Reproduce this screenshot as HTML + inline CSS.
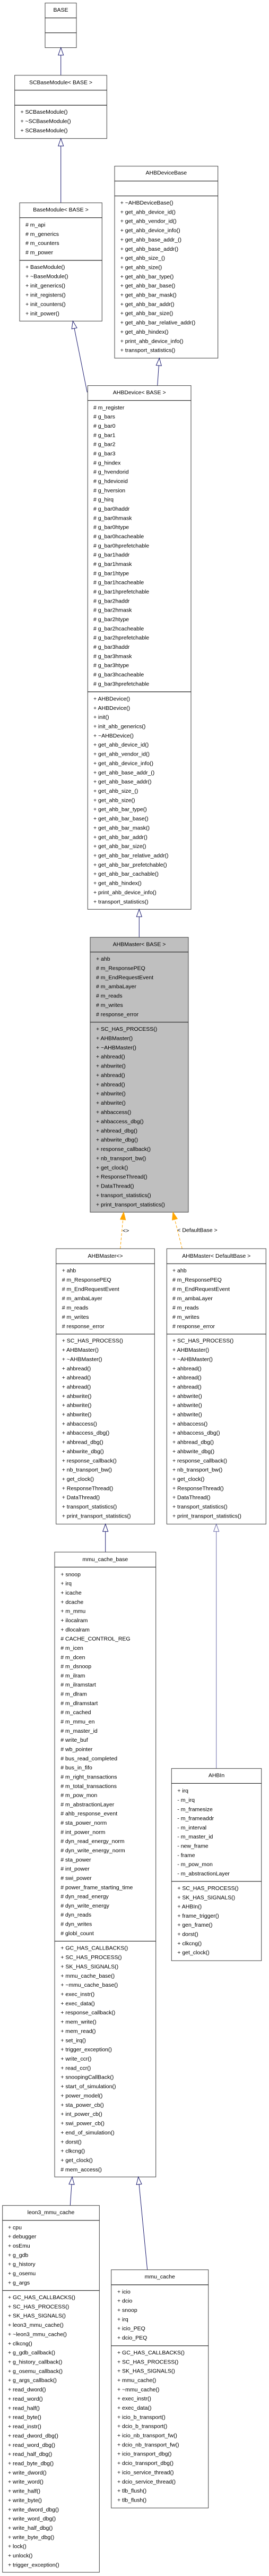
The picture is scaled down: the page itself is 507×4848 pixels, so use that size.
<!DOCTYPE html>
<html><head><meta charset="utf-8"><style>
html,body{margin:0;padding:0;background:#fff;}
svg{display:block;}
text{font-family:"Liberation Sans",Arial,sans-serif;font-size:10.5px;fill:#000;}
.t{text-anchor:middle;}
.b{fill:#fff;stroke:#404040;stroke-width:1;}
.g{fill:#bfbfbf;stroke:#404040;stroke-width:1;}
.d{stroke:#202020;stroke-width:1.2;}
.e{stroke:#191970;stroke-width:1;fill:none;}
.a{stroke:#191970;stroke-width:1;fill:#fff;}
</style></head><body>
<svg width="507" height="4848" viewBox="0 0 507 4848" xmlns="http://www.w3.org/2000/svg">

<!-- BASE -->
<rect class="b" x="85" y="5.7" width="59" height="84"/>
<line class="d" x1="85" y1="33.7" x2="144" y2="33.7"/><line class="d" x1="85" y1="61.7" x2="144" y2="61.7"/>
<text class="t" x="114.5" y="22">BASE</text>

<!-- edge SCBase -> BASE -->
<line class="e" x1="114.7" y1="141.7" x2="114.7" y2="103.7"/>
<polygon class="a" points="114.7,89.7 119.7,103.7 109.7,103.7"/>

<!-- SCBaseModule -->
<rect class="b" x="27.7" y="141.7" width="173.6" height="119"/>
<line class="d" x1="27.7" y1="169.7" x2="201.3" y2="169.7"/><line class="d" x1="27.7" y1="198" x2="201.3" y2="198"/>
<text class="t" x="114.5" y="158.3">SCBaseModule&lt; BASE &gt;</text>
<text x="38.5" y="214"><tspan x="38.5" dy="0">+ SCBaseModule()</tspan><tspan x="38.5" dy="17.5">+ ~SCBaseModule()</tspan><tspan x="38.5" dy="17.5">+ SCBaseModule()</tspan></text>

<!-- edge BaseModule -> SCBase -->
<line class="e" x1="114.7" y1="381.7" x2="114.7" y2="274.7"/>
<polygon class="a" points="114.7,260.7 119.7,274.7 109.7,274.7"/>

<!-- BaseModule -->
<rect class="b" x="37" y="381.7" width="155.3" height="222.6"/>
<line class="d" x1="37" y1="409.7" x2="192.3" y2="409.7"/><line class="d" x1="37" y1="490" x2="192.3" y2="490"/>
<text class="t" x="114.5" y="398">BaseModule&lt; BASE &gt;</text>
<text x="48" y="426.4"><tspan x="48" dy="0"># m_api</tspan><tspan x="48" dy="17.35"># m_generics</tspan><tspan x="48" dy="17.35"># m_counters</tspan><tspan x="48" dy="17.35"># m_power</tspan></text>
<text x="48" y="506"><tspan x="48" dy="0">+ BaseModule()</tspan><tspan x="48" dy="17.5">+ ~BaseModule()</tspan><tspan x="48" dy="17.5">+ init_generics()</tspan><tspan x="48" dy="17.5">+ init_registers()</tspan><tspan x="48" dy="17.5">+ init_counters()</tspan><tspan x="48" dy="17.5">+ init_power()</tspan></text>

<!-- AHBDeviceBase -->
<rect class="b" x="216" y="312.7" width="194.7" height="361.3"/>
<line class="d" x1="216" y1="340.7" x2="410.7" y2="340.7"/><line class="d" x1="216" y1="368.7" x2="410.7" y2="368.7"/>
<text class="t" x="313.3" y="328.7">AHBDeviceBase</text>
<text x="226.7" y="385"><tspan x="226.7" dy="0">+ ~AHBDeviceBase()</tspan><tspan x="226.7" dy="17.35">+ get_ahb_device_id()</tspan><tspan x="226.7" dy="17.35">+ get_ahb_vendor_id()</tspan><tspan x="226.7" dy="17.35">+ get_ahb_device_info()</tspan><tspan x="226.7" dy="17.35">+ get_ahb_base_addr_()</tspan><tspan x="226.7" dy="17.35">+ get_ahb_base_addr()</tspan><tspan x="226.7" dy="17.35">+ get_ahb_size_()</tspan><tspan x="226.7" dy="17.35">+ get_ahb_size()</tspan><tspan x="226.7" dy="17.35">+ get_ahb_bar_type()</tspan><tspan x="226.7" dy="17.35">+ get_ahb_bar_base()</tspan><tspan x="226.7" dy="17.35">+ get_ahb_bar_mask()</tspan><tspan x="226.7" dy="17.35">+ get_ahb_bar_addr()</tspan><tspan x="226.7" dy="17.35">+ get_ahb_bar_size()</tspan><tspan x="226.7" dy="17.35">+ get_ahb_bar_relative_addr()</tspan><tspan x="226.7" dy="17.35">+ get_ahb_hindex()</tspan><tspan x="226.7" dy="17.35">+ print_ahb_device_info()</tspan><tspan x="226.7" dy="17.35">+ transport_statistics()</tspan></text>

<!-- edges to AHBDevice -->
<line class="e" x1="164.3" y1="738.3" x2="140.1" y2="618"/>
<polygon class="a" points="137.3,604.3 145,617 135.2,619"/>
<line class="e" x1="296.7" y1="725.7" x2="299.3" y2="688"/>
<polygon class="a" points="300.3,674 304.3,688.3 294.3,687.6"/>

<!-- AHBDevice -->
<rect class="b" x="165.3" y="725.7" width="194.7" height="985.6"/>
<line class="d" x1="165.3" y1="753.7" x2="360" y2="753.7"/><line class="d" x1="165.3" y1="1302" x2="360" y2="1302"/>
<text class="t" x="262.7" y="742">AHBDevice&lt; BASE &gt;</text>
<text x="176" y="770.4"><tspan x="176" dy="0"># m_register</tspan><tspan x="176" dy="17.33"># g_bars</tspan><tspan x="176" dy="17.33"># g_bar0</tspan><tspan x="176" dy="17.33"># g_bar1</tspan><tspan x="176" dy="17.33"># g_bar2</tspan><tspan x="176" dy="17.33"># g_bar3</tspan><tspan x="176" dy="17.33"># g_hindex</tspan><tspan x="176" dy="17.33"># g_hvendorid</tspan><tspan x="176" dy="17.33"># g_hdeviceid</tspan><tspan x="176" dy="17.33"># g_hversion</tspan><tspan x="176" dy="17.33"># g_hirq</tspan><tspan x="176" dy="17.33"># g_bar0haddr</tspan><tspan x="176" dy="17.33"># g_bar0hmask</tspan><tspan x="176" dy="17.33"># g_bar0htype</tspan><tspan x="176" dy="17.33"># g_bar0hcacheable</tspan><tspan x="176" dy="17.33"># g_bar0hprefetchable</tspan><tspan x="176" dy="17.33"># g_bar1haddr</tspan><tspan x="176" dy="17.33"># g_bar1hmask</tspan><tspan x="176" dy="17.33"># g_bar1htype</tspan><tspan x="176" dy="17.33"># g_bar1hcacheable</tspan><tspan x="176" dy="17.33"># g_bar1hprefetchable</tspan><tspan x="176" dy="17.33"># g_bar2haddr</tspan><tspan x="176" dy="17.33"># g_bar2hmask</tspan><tspan x="176" dy="17.33"># g_bar2htype</tspan><tspan x="176" dy="17.33"># g_bar2hcacheable</tspan><tspan x="176" dy="17.33"># g_bar2hprefetchable</tspan><tspan x="176" dy="17.33"># g_bar3haddr</tspan><tspan x="176" dy="17.33"># g_bar3hmask</tspan><tspan x="176" dy="17.33"># g_bar3htype</tspan><tspan x="176" dy="17.33"># g_bar3hcacheable</tspan><tspan x="176" dy="17.33"># g_bar3hprefetchable</tspan></text>
<text x="176" y="1318.4"><tspan x="176" dy="0">+ AHBDevice()</tspan><tspan x="176" dy="17.36">+ AHBDevice()</tspan><tspan x="176" dy="17.36">+ init()</tspan><tspan x="176" dy="17.36">+ init_ahb_generics()</tspan><tspan x="176" dy="17.36">+ ~AHBDevice()</tspan><tspan x="176" dy="17.36">+ get_ahb_device_id()</tspan><tspan x="176" dy="17.36">+ get_ahb_vendor_id()</tspan><tspan x="176" dy="17.36">+ get_ahb_device_info()</tspan><tspan x="176" dy="17.36">+ get_ahb_base_addr_()</tspan><tspan x="176" dy="17.36">+ get_ahb_base_addr()</tspan><tspan x="176" dy="17.36">+ get_ahb_size_()</tspan><tspan x="176" dy="17.36">+ get_ahb_size()</tspan><tspan x="176" dy="17.36">+ get_ahb_bar_type()</tspan><tspan x="176" dy="17.36">+ get_ahb_bar_base()</tspan><tspan x="176" dy="17.36">+ get_ahb_bar_mask()</tspan><tspan x="176" dy="17.36">+ get_ahb_bar_addr()</tspan><tspan x="176" dy="17.36">+ get_ahb_bar_size()</tspan><tspan x="176" dy="17.36">+ get_ahb_bar_relative_addr()</tspan><tspan x="176" dy="17.36">+ get_ahb_bar_prefetchable()</tspan><tspan x="176" dy="17.36">+ get_ahb_bar_cachable()</tspan><tspan x="176" dy="17.36">+ get_ahb_hindex()</tspan><tspan x="176" dy="17.36">+ print_ahb_device_info()</tspan><tspan x="176" dy="17.36">+ transport_statistics()</tspan></text>

<!-- edge AHBMaster -> AHBDevice -->
<line class="e" x1="262.3" y1="1764" x2="262.3" y2="1725.3"/>
<polygon class="a" points="262.3,1711.3 267.3,1725.3 257.3,1725.3"/>

<!-- AHBMaster<BASE> -->
<rect class="g" x="170" y="1764" width="185" height="517.3"/>
<line class="d" x1="170" y1="1791.7" x2="355" y2="1791.7"/><line class="d" x1="170" y1="1923.7" x2="355" y2="1923.7"/>
<text class="t" x="262.5" y="1780.4">AHBMaster&lt; BASE &gt;</text>
<text x="181" y="1808"><tspan x="181" dy="0">+ ahb</tspan><tspan x="181" dy="17.4"># m_ResponsePEQ</tspan><tspan x="181" dy="17.4"># m_EndRequestEvent</tspan><tspan x="181" dy="17.4"># m_ambaLayer</tspan><tspan x="181" dy="17.4"># m_reads</tspan><tspan x="181" dy="17.4"># m_writes</tspan><tspan x="181" dy="17.4"># response_error</tspan></text>
<text x="181" y="1940"><tspan x="181" dy="0">+ SC_HAS_PROCESS()</tspan><tspan x="181" dy="17.39">+ AHBMaster()</tspan><tspan x="181" dy="17.39">+ ~AHBMaster()</tspan><tspan x="181" dy="17.39">+ ahbread()</tspan><tspan x="181" dy="17.39">+ ahbwrite()</tspan><tspan x="181" dy="17.39">+ ahbread()</tspan><tspan x="181" dy="17.39">+ ahbread()</tspan><tspan x="181" dy="17.39">+ ahbwrite()</tspan><tspan x="181" dy="17.39">+ ahbwrite()</tspan><tspan x="181" dy="17.39">+ ahbaccess()</tspan><tspan x="181" dy="17.39">+ ahbaccess_dbg()</tspan><tspan x="181" dy="17.39">+ ahbread_dbg()</tspan><tspan x="181" dy="17.39">+ ahbwrite_dbg()</tspan><tspan x="181" dy="17.39">+ response_callback()</tspan><tspan x="181" dy="17.39">+ nb_transport_bw()</tspan><tspan x="181" dy="17.39">+ get_clock()</tspan><tspan x="181" dy="17.39">+ ResponseThread()</tspan><tspan x="181" dy="17.39">+ DataThread()</tspan><tspan x="181" dy="17.39">+ transport_statistics()</tspan><tspan x="181" dy="17.39">+ print_transport_statistics()</tspan></text>

<!-- orange template edges -->
<line x1="226.7" y1="2350" x2="231.7" y2="2295.3" stroke="orange" stroke-width="1" stroke-dasharray="5,3"/>
<polygon points="233,2281.3 236.7,2295.8 226.7,2294.8" fill="orange" stroke="orange"/>
<text x="231" y="2319.4">&lt;&gt;</text>
<line x1="343.3" y1="2350" x2="329.4" y2="2294.9" stroke="orange" stroke-width="1" stroke-dasharray="5,3"/>
<polygon points="326,2281.3 334.3,2293.7 324.6,2296.1" fill="orange" stroke="orange"/>
<text x="334.3" y="2318.4">&lt; DefaultBase &gt;</text>

<!-- AHBMaster<> -->
<rect class="b" x="105.7" y="2350" width="185.6" height="518.3"/>
<line class="d" x1="105.7" y1="2378.3" x2="291.3" y2="2378.3"/><line class="d" x1="105.7" y1="2510.7" x2="291.3" y2="2510.7"/>
<text class="t" x="198.5" y="2367">AHBMaster&lt;&gt;</text>
<text x="116.7" y="2394.7"><tspan x="116.7" dy="0">+ ahb</tspan><tspan x="116.7" dy="17.45"># m_ResponsePEQ</tspan><tspan x="116.7" dy="17.45"># m_EndRequestEvent</tspan><tspan x="116.7" dy="17.45"># m_ambaLayer</tspan><tspan x="116.7" dy="17.45"># m_reads</tspan><tspan x="116.7" dy="17.45"># m_writes</tspan><tspan x="116.7" dy="17.45"># response_error</tspan></text>
<text x="116.7" y="2526.7"><tspan x="116.7" dy="0">+ SC_HAS_PROCESS()</tspan><tspan x="116.7" dy="17.35">+ AHBMaster()</tspan><tspan x="116.7" dy="17.35">+ ~AHBMaster()</tspan><tspan x="116.7" dy="17.35">+ ahbread()</tspan><tspan x="116.7" dy="17.35">+ ahbread()</tspan><tspan x="116.7" dy="17.35">+ ahbread()</tspan><tspan x="116.7" dy="17.35">+ ahbwrite()</tspan><tspan x="116.7" dy="17.35">+ ahbwrite()</tspan><tspan x="116.7" dy="17.35">+ ahbwrite()</tspan><tspan x="116.7" dy="17.35">+ ahbaccess()</tspan><tspan x="116.7" dy="17.35">+ ahbaccess_dbg()</tspan><tspan x="116.7" dy="17.35">+ ahbread_dbg()</tspan><tspan x="116.7" dy="17.35">+ ahbwrite_dbg()</tspan><tspan x="116.7" dy="17.35">+ response_callback()</tspan><tspan x="116.7" dy="17.35">+ nb_transport_bw()</tspan><tspan x="116.7" dy="17.35">+ get_clock()</tspan><tspan x="116.7" dy="17.35">+ ResponseThread()</tspan><tspan x="116.7" dy="17.35">+ DataThread()</tspan><tspan x="116.7" dy="17.35">+ transport_statistics()</tspan><tspan x="116.7" dy="17.35">+ print_transport_statistics()</tspan></text>

<!-- AHBMaster<DefaultBase> -->
<rect class="b" x="314.3" y="2350" width="187" height="518.3"/>
<line class="d" x1="314.3" y1="2378.3" x2="501.3" y2="2378.3"/><line class="d" x1="314.3" y1="2510.7" x2="501.3" y2="2510.7"/>
<text class="t" x="407.8" y="2367">AHBMaster&lt; DefaultBase &gt;</text>
<text x="325" y="2394.7"><tspan x="325" dy="0">+ ahb</tspan><tspan x="325" dy="17.45"># m_ResponsePEQ</tspan><tspan x="325" dy="17.45"># m_EndRequestEvent</tspan><tspan x="325" dy="17.45"># m_ambaLayer</tspan><tspan x="325" dy="17.45"># m_reads</tspan><tspan x="325" dy="17.45"># m_writes</tspan><tspan x="325" dy="17.45"># response_error</tspan></text>
<text x="325" y="2526.7"><tspan x="325" dy="0">+ SC_HAS_PROCESS()</tspan><tspan x="325" dy="17.35">+ AHBMaster()</tspan><tspan x="325" dy="17.35">+ ~AHBMaster()</tspan><tspan x="325" dy="17.35">+ ahbread()</tspan><tspan x="325" dy="17.35">+ ahbread()</tspan><tspan x="325" dy="17.35">+ ahbread()</tspan><tspan x="325" dy="17.35">+ ahbwrite()</tspan><tspan x="325" dy="17.35">+ ahbwrite()</tspan><tspan x="325" dy="17.35">+ ahbwrite()</tspan><tspan x="325" dy="17.35">+ ahbaccess()</tspan><tspan x="325" dy="17.35">+ ahbaccess_dbg()</tspan><tspan x="325" dy="17.35">+ ahbread_dbg()</tspan><tspan x="325" dy="17.35">+ ahbwrite_dbg()</tspan><tspan x="325" dy="17.35">+ response_callback()</tspan><tspan x="325" dy="17.35">+ nb_transport_bw()</tspan><tspan x="325" dy="17.35">+ get_clock()</tspan><tspan x="325" dy="17.35">+ ResponseThread()</tspan><tspan x="325" dy="17.35">+ DataThread()</tspan><tspan x="325" dy="17.35">+ transport_statistics()</tspan><tspan x="325" dy="17.35">+ print_transport_statistics()</tspan></text>

<!-- edges to masters -->
<line class="e" x1="198.7" y1="2921" x2="198.7" y2="2882.3"/>
<polygon class="a" points="198.7,2868.3 203.7,2882.3 193.7,2882.3"/>
<line x1="407.7" y1="3328.3" x2="407.7" y2="2882.3" stroke="#6a6aa8" stroke-width="1"/>
<polygon points="407.7,2868.3 412.7,2882.3 402.7,2882.3" fill="#fff" stroke="#6a6aa8" stroke-width="1"/>

<!-- mmu_cache_base -->
<rect class="b" x="103" y="2921" width="190.7" height="1176"/>
<line class="d" x1="103" y1="2949.3" x2="293.7" y2="2949.3"/><line class="d" x1="103" y1="3653.3" x2="293.7" y2="3653.3"/>
<text class="t" x="198.3" y="2938">mmu_cache_base</text>
<text x="114.3" y="2966.4"><tspan x="114.3" dy="0">+ snoop</tspan><tspan x="114.3" dy="17.32">+ irq</tspan><tspan x="114.3" dy="17.32">+ icache</tspan><tspan x="114.3" dy="17.32">+ dcache</tspan><tspan x="114.3" dy="17.32">+ m_mmu</tspan><tspan x="114.3" dy="17.32">+ ilocalram</tspan><tspan x="114.3" dy="17.32">+ dlocalram</tspan><tspan x="114.3" dy="17.32"># CACHE_CONTROL_REG</tspan><tspan x="114.3" dy="17.32"># m_icen</tspan><tspan x="114.3" dy="17.32"># m_dcen</tspan><tspan x="114.3" dy="17.32"># m_dsnoop</tspan><tspan x="114.3" dy="17.32"># m_ilram</tspan><tspan x="114.3" dy="17.32"># m_ilramstart</tspan><tspan x="114.3" dy="17.32"># m_dlram</tspan><tspan x="114.3" dy="17.32"># m_dlramstart</tspan><tspan x="114.3" dy="17.32"># m_cached</tspan><tspan x="114.3" dy="17.32"># m_mmu_en</tspan><tspan x="114.3" dy="17.32"># m_master_id</tspan><tspan x="114.3" dy="17.32"># write_buf</tspan><tspan x="114.3" dy="17.32"># wb_pointer</tspan><tspan x="114.3" dy="17.32"># bus_read_completed</tspan><tspan x="114.3" dy="17.32"># bus_in_fifo</tspan><tspan x="114.3" dy="17.32"># m_right_transactions</tspan><tspan x="114.3" dy="17.32"># m_total_transactions</tspan><tspan x="114.3" dy="17.32"># m_pow_mon</tspan><tspan x="114.3" dy="17.32"># m_abstractionLayer</tspan><tspan x="114.3" dy="17.32"># ahb_response_event</tspan><tspan x="114.3" dy="17.32"># sta_power_norm</tspan><tspan x="114.3" dy="17.32"># int_power_norm</tspan><tspan x="114.3" dy="17.32"># dyn_read_energy_norm</tspan><tspan x="114.3" dy="17.32"># dyn_write_energy_norm</tspan><tspan x="114.3" dy="17.32"># sta_power</tspan><tspan x="114.3" dy="17.32"># int_power</tspan><tspan x="114.3" dy="17.32"># swi_power</tspan><tspan x="114.3" dy="17.32"># power_frame_starting_time</tspan><tspan x="114.3" dy="17.32"># dyn_read_energy</tspan><tspan x="114.3" dy="17.32"># dyn_write_energy</tspan><tspan x="114.3" dy="17.32"># dyn_reads</tspan><tspan x="114.3" dy="17.32"># dyn_writes</tspan><tspan x="114.3" dy="17.32"># globl_count</tspan></text>
<text x="114.3" y="3669.7"><tspan x="114.3" dy="0">+ GC_HAS_CALLBACKS()</tspan><tspan x="114.3" dy="17.36">+ SC_HAS_PROCESS()</tspan><tspan x="114.3" dy="17.36">+ SK_HAS_SIGNALS()</tspan><tspan x="114.3" dy="17.36">+ mmu_cache_base()</tspan><tspan x="114.3" dy="17.36">+ ~mmu_cache_base()</tspan><tspan x="114.3" dy="17.36">+ exec_instr()</tspan><tspan x="114.3" dy="17.36">+ exec_data()</tspan><tspan x="114.3" dy="17.36">+ response_callback()</tspan><tspan x="114.3" dy="17.36">+ mem_write()</tspan><tspan x="114.3" dy="17.36">+ mem_read()</tspan><tspan x="114.3" dy="17.36">+ set_irq()</tspan><tspan x="114.3" dy="17.36">+ trigger_exception()</tspan><tspan x="114.3" dy="17.36">+ write_ccr()</tspan><tspan x="114.3" dy="17.36">+ read_ccr()</tspan><tspan x="114.3" dy="17.36">+ snoopingCallBack()</tspan><tspan x="114.3" dy="17.36">+ start_of_simulation()</tspan><tspan x="114.3" dy="17.36">+ power_model()</tspan><tspan x="114.3" dy="17.36">+ sta_power_cb()</tspan><tspan x="114.3" dy="17.36">+ int_power_cb()</tspan><tspan x="114.3" dy="17.36">+ swi_power_cb()</tspan><tspan x="114.3" dy="17.36">+ end_of_simulation()</tspan><tspan x="114.3" dy="17.36">+ dorst()</tspan><tspan x="114.3" dy="17.36">+ clkcng()</tspan><tspan x="114.3" dy="17.36">+ get_clock()</tspan><tspan x="114.3" dy="17.36"># mem_access()</tspan></text>

<!-- AHBIn -->
<rect class="b" x="323.3" y="3328.3" width="169.4" height="361.7"/>
<line class="d" x1="323.3" y1="3356.3" x2="492.7" y2="3356.3"/><line class="d" x1="323.3" y1="3540.7" x2="492.7" y2="3540.7"/>
<text class="t" x="408" y="3344.7">AHBIn</text>
<text x="334.3" y="3373.7"><tspan x="334.3" dy="0">+ irq</tspan><tspan x="334.3" dy="17.3">- m_irq</tspan><tspan x="334.3" dy="17.3">- m_framesize</tspan><tspan x="334.3" dy="17.3">- m_frameaddr</tspan><tspan x="334.3" dy="17.3">- m_interval</tspan><tspan x="334.3" dy="17.3">- m_master_id</tspan><tspan x="334.3" dy="17.3">- new_frame</tspan><tspan x="334.3" dy="17.3">- frame</tspan><tspan x="334.3" dy="17.3">- m_pow_mon</tspan><tspan x="334.3" dy="17.3">- m_abstractionLayer</tspan></text>
<text x="334.3" y="3557"><tspan x="334.3" dy="0">+ SC_HAS_PROCESS()</tspan><tspan x="334.3" dy="17.3">+ SK_HAS_SIGNALS()</tspan><tspan x="334.3" dy="17.3">+ AHBIn()</tspan><tspan x="334.3" dy="17.3">+ frame_trigger()</tspan><tspan x="334.3" dy="17.3">+ gen_frame()</tspan><tspan x="334.3" dy="17.3">+ dorst()</tspan><tspan x="334.3" dy="17.3">+ clkcng()</tspan><tspan x="334.3" dy="17.3">+ get_clock()</tspan></text>

<!-- edges to mmu_cache_base -->
<line class="e" x1="132.3" y1="4150.7" x2="135" y2="4111"/>
<polygon class="a" points="136,4097 140,4111.3 130,4110.7"/>
<line class="e" x1="277.7" y1="4271.7" x2="262.1" y2="4110.9"/>
<polygon class="a" points="260.7,4097 267,4110.4 257.1,4111.4"/>

<!-- leon3_mmu_cache -->
<rect class="b" x="4.7" y="4150.7" width="182.6" height="690.3"/>
<line class="d" x1="4.7" y1="4178.7" x2="187.3" y2="4178.7"/><line class="d" x1="4.7" y1="4310.7" x2="187.3" y2="4310.7"/>
<text class="t" x="96" y="4167">leon3_mmu_cache</text>
<text x="15" y="4195.4"><tspan x="15" dy="0">+ cpu</tspan><tspan x="15" dy="17.33">+ debugger</tspan><tspan x="15" dy="17.33">+ osEmu</tspan><tspan x="15" dy="17.33">+ g_gdb</tspan><tspan x="15" dy="17.33">+ g_history</tspan><tspan x="15" dy="17.33">+ g_osemu</tspan><tspan x="15" dy="17.33">+ g_args</tspan></text>
<text x="15" y="4327"><tspan x="15" dy="0">+ GC_HAS_CALLBACKS()</tspan><tspan x="15" dy="17.36">+ SC_HAS_PROCESS()</tspan><tspan x="15" dy="17.36">+ SK_HAS_SIGNALS()</tspan><tspan x="15" dy="17.36">+ leon3_mmu_cache()</tspan><tspan x="15" dy="17.36">+ ~leon3_mmu_cache()</tspan><tspan x="15" dy="17.36">+ clkcng()</tspan><tspan x="15" dy="17.36">+ g_gdb_callback()</tspan><tspan x="15" dy="17.36">+ g_history_callback()</tspan><tspan x="15" dy="17.36">+ g_osemu_callback()</tspan><tspan x="15" dy="17.36">+ g_args_callback()</tspan><tspan x="15" dy="17.36">+ read_dword()</tspan><tspan x="15" dy="17.36">+ read_word()</tspan><tspan x="15" dy="17.36">+ read_half()</tspan><tspan x="15" dy="17.36">+ read_byte()</tspan><tspan x="15" dy="17.36">+ read_instr()</tspan><tspan x="15" dy="17.36">+ read_dword_dbg()</tspan><tspan x="15" dy="17.36">+ read_word_dbg()</tspan><tspan x="15" dy="17.36">+ read_half_dbg()</tspan><tspan x="15" dy="17.36">+ read_byte_dbg()</tspan><tspan x="15" dy="17.36">+ write_dword()</tspan><tspan x="15" dy="17.36">+ write_word()</tspan><tspan x="15" dy="17.36">+ write_half()</tspan><tspan x="15" dy="17.36">+ write_byte()</tspan><tspan x="15" dy="17.36">+ write_dword_dbg()</tspan><tspan x="15" dy="17.36">+ write_word_dbg()</tspan><tspan x="15" dy="17.36">+ write_half_dbg()</tspan><tspan x="15" dy="17.36">+ write_byte_dbg()</tspan><tspan x="15" dy="17.36">+ lock()</tspan><tspan x="15" dy="17.36">+ unlock()</tspan><tspan x="15" dy="17.36">+ trigger_exception()</tspan></text>

<!-- mmu_cache -->
<rect class="b" x="209.7" y="4271.7" width="183" height="448.3"/>
<line class="d" x1="209.7" y1="4300" x2="392.7" y2="4300"/><line class="d" x1="209.7" y1="4414.7" x2="392.7" y2="4414.7"/>
<text class="t" x="301.2" y="4288">mmu_cache</text>
<text x="221" y="4316.4"><tspan x="221" dy="0">+ icio</tspan><tspan x="221" dy="17.33">+ dcio</tspan><tspan x="221" dy="17.33">+ snoop</tspan><tspan x="221" dy="17.33">+ irq</tspan><tspan x="221" dy="17.33">+ icio_PEQ</tspan><tspan x="221" dy="17.33">+ dcio_PEQ</tspan></text>
<text x="221" y="4431"><tspan x="221" dy="0">+ GC_HAS_CALLBACKS()</tspan><tspan x="221" dy="17.34">+ SC_HAS_PROCESS()</tspan><tspan x="221" dy="17.34">+ SK_HAS_SIGNALS()</tspan><tspan x="221" dy="17.34">+ mmu_cache()</tspan><tspan x="221" dy="17.34">+ ~mmu_cache()</tspan><tspan x="221" dy="17.34">+ exec_instr()</tspan><tspan x="221" dy="17.34">+ exec_data()</tspan><tspan x="221" dy="17.34">+ icio_b_transport()</tspan><tspan x="221" dy="17.34">+ dcio_b_transport()</tspan><tspan x="221" dy="17.34">+ icio_nb_transport_fw()</tspan><tspan x="221" dy="17.34">+ dcio_nb_transport_fw()</tspan><tspan x="221" dy="17.34">+ icio_transport_dbg()</tspan><tspan x="221" dy="17.34">+ dcio_transport_dbg()</tspan><tspan x="221" dy="17.34">+ icio_service_thread()</tspan><tspan x="221" dy="17.34">+ dcio_service_thread()</tspan><tspan x="221" dy="17.34">+ tlb_flush()</tspan><tspan x="221" dy="17.34">+ tlb_flush()</tspan></text>

</svg>
</body></html>
